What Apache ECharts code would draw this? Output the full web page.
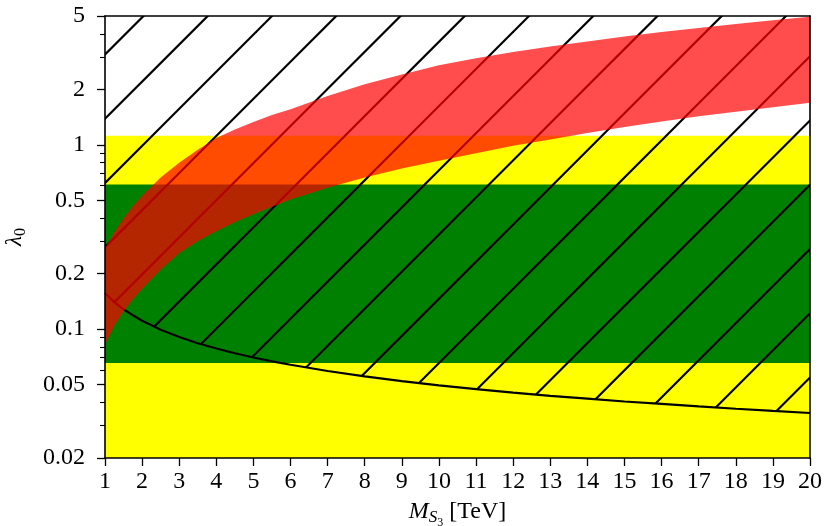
<!DOCTYPE html>
<html>
<head>
<meta charset="utf-8">
<script src="https://cdn.jsdelivr.net/npm/echarts@6/dist/echarts.min.js"></script>
<style>html,body{margin:0;padding:0;background:#fff}#c{width:824px;height:526px}</style>
</head>
<body>
<div id="c"></div>
<script>
// ---- data ----
const massValues = [1, 1.25, 1.5, 1.75, 2, 2.5, 3, 3.5, 4, 4.5, 5, 5.5, 6, 7, 8, 9, 10, 11, 12, 13, 14, 15, 16, 17, 18, 19, 20];
const boundaryCurve = [0.157, 0.140, 0.128, 0.119, 0.111, 0.0993, 0.0906, 0.0839, 0.0785, 0.0740, 0.0702, 0.0669, 0.0641, 0.0593, 0.0555, 0.0523, 0.0496, 0.0473, 0.0453, 0.0435, 0.0420, 0.0405, 0.0393, 0.0381, 0.0370, 0.0360, 0.0351];
const redUpper = [0.275, 0.335, 0.40, 0.465, 0.529, 0.665, 0.80, 0.94, 1.09, 1.21, 1.33, 1.45, 1.56, 1.84, 2.13, 2.41, 2.70, 2.95, 3.19, 3.42, 3.64, 3.87, 4.09, 4.31, 4.52, 4.74, 4.95];
const redLower = [0.083, 0.104, 0.125, 0.145, 0.165, 0.21, 0.258, 0.30, 0.34, 0.38, 0.42, 0.462, 0.505, 0.585, 0.665, 0.745, 0.82, 0.90, 0.99, 1.07, 1.16, 1.25, 1.34, 1.43, 1.51, 1.60, 1.69];
const yellowBand = [0.02, 1.12];
const greenBand = [0.0655, 0.61];
const xRange = [1, 20];
const yRange = [0.02, 5];
const yMajorTicks = [0.02, 0.05, 0.1, 0.2, 0.5, 1, 2, 5];
const yTickLabels = ['0.02', '0.05', '0.1', '0.2', '0.5', '1', '2', '5'];
const yMinorTicks = [0.03, 0.04, 0.06, 0.07, 0.08, 0.09, 0.3, 0.4, 0.6, 0.7, 0.8, 0.9, 3, 4];

const FONT = '"Liberation Serif", serif';

function makeHatch() {
  const T = 257, step = 64.25, phase = 31;
  const cv = document.createElement('canvas');
  cv.width = T; cv.height = T;
  const g = cv.getContext('2d');
  g.strokeStyle = '#000';
  g.lineWidth = 2.2;
  for (let n = -2; n <= 10; n++) {
    const k = phase + step * n;
    g.beginPath();
    g.moveTo(k + 20, -20);
    g.lineTo(k - T - 20, T + 20);
    g.stroke();
  }
  return cv;
}
const hatchCanvas = makeHatch();

function bandSeries(band, color, z) {
  return {
    type: 'custom', coordinateSystem: 'cartesian2d', clip: true, z: z, silent: true,
    data: [[xRange[0], band[0]]],
    renderItem: function (params, api) {
      const p0 = api.coord([xRange[0], band[1]]);
      const p1 = api.coord([xRange[1], band[0]]);
      return { type: 'rect', shape: { x: p0[0], y: p0[1], width: p1[0] - p0[0], height: p1[1] - p0[1] }, style: { fill: color } };
    }
  };
}

const chart = echarts.init(document.getElementById('c'), null, { renderer: 'canvas' });

const yAxisCommon = { type: 'log', logBase: 10, min: yRange[0], max: yRange[1], splitLine: { show: false }, minorTick: { show: false }, z: 10 };

chart.setOption({
  animation: false,
  backgroundColor: '#fff',
  grid: { left: 105, right: 14, top: 16, bottom: 68, containLabel: false, outerBoundsMode: 'none' },
  xAxis: [
    {
      type: 'value', min: xRange[0], max: xRange[1], interval: 1, position: 'bottom', z: 10,
      axisLine: { show: true, onZero: false, lineStyle: { color: '#000', width: 1.6 } },
      axisTick: { show: true, inside: false, length: 8, lineStyle: { color: '#000', width: 1.3 } },
      axisLabel: { interval: 0, fontSize: 24, fontFamily: FONT, color: '#000', margin: 12, showMinLabel: true, showMaxLabel: true },
      splitLine: { show: false },
      name: '{i|M}{s|S}{ss|3} [TeV]',
      nameLocation: 'middle', nameGap: 37,
      nameTextStyle: {
        fontFamily: FONT, fontSize: 24, color: '#000',
        rich: {
          i: { fontFamily: FONT, fontStyle: 'italic', fontSize: 24, color: '#000', verticalAlign: 'middle' },
          s: { fontFamily: FONT, fontStyle: 'italic', fontSize: 17, color: '#000', verticalAlign: 'middle', padding: [12, 0, 0, 0] },
          ss: { fontFamily: FONT, fontSize: 12, color: '#000', verticalAlign: 'middle', padding: [22, 0, 0, 0] }
        }
      }
    },
    {
      type: 'value', min: xRange[0], max: xRange[1], position: 'top', z: 10,
      axisLine: { show: true, onZero: false, lineStyle: { color: '#000', width: 1.6 } },
      axisTick: { show: false }, axisLabel: { show: false }, splitLine: { show: false }
    }
  ],
  yAxis: [
    Object.assign({}, yAxisCommon, {
      position: 'left',
      axisLine: { show: true, lineStyle: { color: '#000', width: 1.6 } },
      axisTick: { show: true, inside: false, length: 8, customValues: yMajorTicks, lineStyle: { color: '#000', width: 1.3 } },
      axisLabel: {
        customValues: yMajorTicks, fontSize: 24, fontFamily: FONT, color: '#000', margin: 20,
        formatter: function (v) {
          for (let i = 0; i < yMajorTicks.length; i++) if (Math.abs(v - yMajorTicks[i]) / yMajorTicks[i] < 1e-6) return yTickLabels[i];
          return '';
        }
      },
      name: '{i|λ}{s|0}',
      nameLocation: 'middle', nameGap: 76, nameRotate: 90,
      nameTextStyle: {
        fontFamily: FONT, fontSize: 23, color: '#000',
        rich: {
          i: { fontFamily: FONT, fontStyle: 'italic', fontSize: 23, color: '#000', verticalAlign: 'middle' },
          s: { fontFamily: FONT, fontSize: 16, color: '#000', verticalAlign: 'middle', padding: [12, 0, 0, 0] }
        }
      }
    }),
    Object.assign({}, yAxisCommon, {
      position: 'left',
      axisLine: { show: false },
      axisTick: { show: true, inside: false, length: 5, customValues: yMinorTicks, lineStyle: { color: '#000', width: 1.1 } },
      axisLabel: { show: false }
    }),
    Object.assign({}, yAxisCommon, {
      position: 'right',
      axisLine: { show: true, lineStyle: { color: '#000', width: 1.6 } },
      axisTick: { show: false }, axisLabel: { show: false }
    })
  ],
  series: [
    bandSeries(yellowBand, '#ffff00', 1),
    bandSeries(greenBand, '#008000', 2),
    {
      type: 'custom', coordinateSystem: 'cartesian2d', clip: true, z: 3, silent: true,
      data: [[xRange[0], boundaryCurve[0]]],
      renderItem: function (params, api) {
        const pts = massValues.map(function (m, i) { return api.coord([m, boundaryCurve[i]]); });
        const top = params.coordSys.y - 5;
        pts.push([pts[pts.length - 1][0] + 5, pts[pts.length - 1][1]]);
        pts.push([pts[pts.length - 1][0], top]);
        pts.push([pts[0][0] - 5, top]);
        pts.push([pts[0][0] - 5, pts[0][1]]);
        return { type: 'polygon', shape: { points: pts }, style: { fill: { image: hatchCanvas, repeat: 'repeat' }, stroke: null } };
      }
    },
    {
      type: 'line', z: 4, silent: true, showSymbol: false, symbol: 'none',
      smooth: false,
      lineStyle: { color: '#000', width: 2.2 },
      data: massValues.map(function (m, i) { return [m, boundaryCurve[i]]; })
    },
    {
      type: 'custom', coordinateSystem: 'cartesian2d', clip: true, z: 5, silent: true,
      data: [[xRange[0], redLower[0]]],
      renderItem: function (params, api) {
        const up = massValues.map(function (m, i) { return api.coord([m, redUpper[i]]); });
        const lo = massValues.map(function (m, i) { return api.coord([m, redLower[i]]); }).reverse();
        return { type: 'polygon', shape: { points: up.concat(lo) }, style: { fill: 'rgba(255,0,0,0.7)', stroke: null } };
      }
    }
  ]
});
</script>
</body>
</html>
